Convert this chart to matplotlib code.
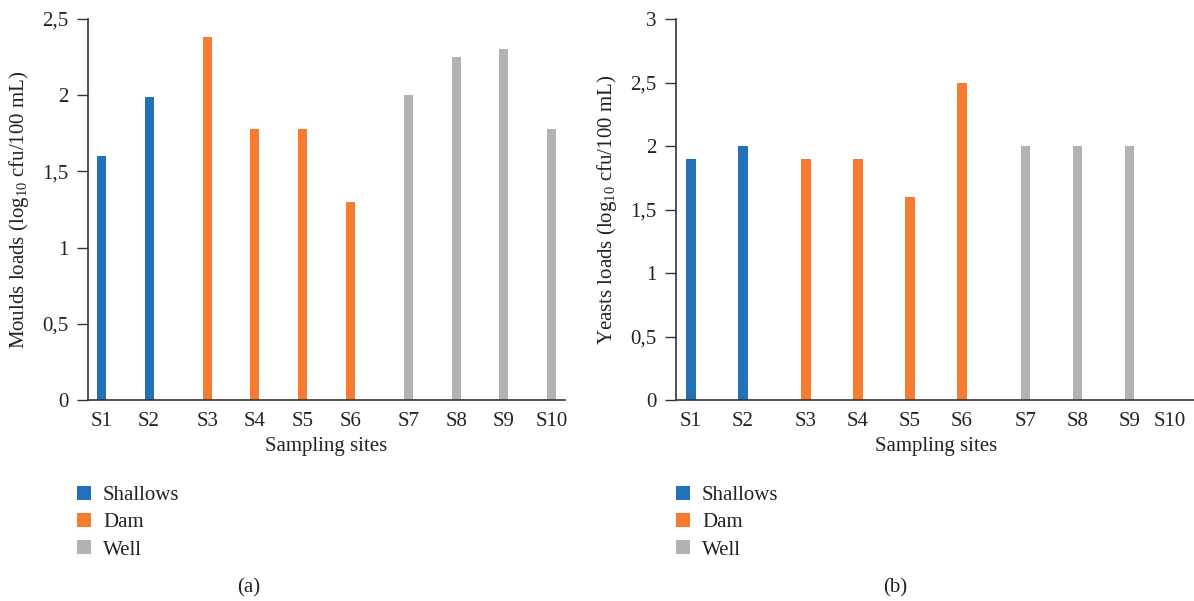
import numpy as np
import matplotlib
matplotlib.use("Agg")
import matplotlib.pyplot as plt
from matplotlib.transforms import ScaledTranslation

plt.rcParams['font.family'] = ['Liberation Serif', 'DejaVu Serif']
plt.rcParams['mathtext.default'] = 'regular'

sites = ['S1', 'S2', 'S3', 'S4', 'S5', 'S6', 'S7', 'S8', 'S9', 'S10']
site_type = ['Shallows', 'Shallows', 'Dam', 'Dam', 'Dam', 'Dam', 'Well', 'Well', 'Well', 'Well']
moulds = [1.60, 1.99, 2.38, 1.78, 1.78, 1.30, 2.00, 2.25, 2.30, 1.78]
yeasts = [1.90, 2.00, 1.90, 1.90, 1.60, 2.50, 2.00, 2.00, 2.00, 0.0]

types = ['Shallows', 'Dam', 'Well']
colors = {'Shallows': '#2271b9', 'Dam': '#f47b2f', 'Well': '#b1b2b5'}
offsets = {'Shallows': -0.22, 'Dam': 0.0, 'Well': 0.22}
bar_w = 0.19
fs = 15
axcol = '#333333'
txtcol = '#222222'

W, H = 1194, 601
fig = plt.figure(figsize=(W / 100, H / 100), dpi=100)


def px_axes(left, right, top, bottom):
    return fig.add_axes([left / W, 1 - bottom / H, (right - left) / W, (bottom - top) / H])


def draw_panel(ax, values, ymax, yticks, ylabel, legend_xy, tag, tag_x):
    x = np.arange(len(sites))
    handles = []
    for t in types:
        idx = [i for i, s in enumerate(site_type) if s == t]
        h = ax.bar(x[idx] + offsets[t], [values[i] for i in idx], width=bar_w,
                   color=colors[t], label=t, zorder=2)
        handles.append(h)
    tick_pos = [i + offsets[site_type[i]] for i in x]
    ax.set_xticks(tick_pos)
    ax.set_xticklabels(sites, fontsize=fs, color=txtcol)
    ax.set_xlim(-0.5, len(sites) - 0.5)
    ax.set_ylim(0, ymax)
    ax.set_yticks(yticks)
    ax.set_yticklabels([('%g' % v).replace('.', ',') for v in yticks], fontsize=fs, color=txtcol)
    ax.tick_params(axis='x', length=0, pad=9)
    ax.tick_params(axis='y', length=8, width=1, color=axcol, pad=6)
    for s in ['top', 'right']:
        ax.spines[s].set_visible(False)
    for s in ['left', 'bottom']:
        ax.spines[s].set_color(axcol)
        ax.spines[s].set_linewidth(1.2)
    ax.set_xlabel('Sampling sites', fontsize=fs, color=txtcol, labelpad=4)
    ax.set_ylabel(ylabel, fontsize=fs, color=txtcol, labelpad=8)
    leg = fig.legend(handles=handles, loc='upper left',
                     bbox_to_anchor=(legend_xy[0] / W, 1 - legend_xy[1] / H),
                     frameon=False, prop={'family': 'Liberation Serif', 'size': fs},
                     handlelength=0.65, handleheight=0.65,
                     handletextpad=0.6, labelspacing=0.38, borderaxespad=0, borderpad=0)
    for t in leg.get_texts():
        t.set_color(txtcol)
    fig.text(tag_x / W, 1 - 588 / H, tag, ha='center', va='center', fontsize=fs, color=txtcol)


ax1 = px_axes(88, 565, 19, 400)
draw_panel(ax1, moulds, 2.5, [0, 0.5, 1, 1.5, 2, 2.5],
           r'Moulds loads (log$_{10}$ cfu/100 mL)', (77, 486), '(a)', 249)

ax2 = px_axes(676, 1196, 19, 400)
draw_panel(ax2, yeasts, 3, [0, 0.5, 1, 1.5, 2, 2.5, 3],
           r'Yeasts loads (log$_{10}$ cfu/100 mL)', (676, 486), '(b)', 895)

# last label on the right panel sits a little inward so it stays inside the figure
lab = ax2.get_xticklabels()[-1]
lab.set_transform(lab.get_transform() + ScaledTranslation(-12 / 100, 0, fig.dpi_scale_trans))

fig.savefig('out.png', dpi=100)
